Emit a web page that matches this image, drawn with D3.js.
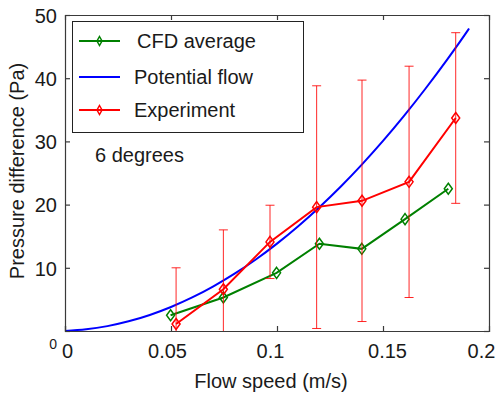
<!DOCTYPE html>
<html>
<head>
<meta charset="utf-8">
<script src="https://cdn.jsdelivr.net/npm/d3@7"></script>
<style>
  html, body { margin: 0; padding: 0; background: #fff; }
  svg { display: block; font-family: "Liberation Sans", Arial, Helvetica, sans-serif; }
</style>
</head>
<body>
<svg id="chart" width="498" height="398"></svg>
<script>
// ---- data ----
const xTicks = [0, 0.05, 0.1, 0.15, 0.2];
const xTickLabels = ["0", "0.05", "0.1", "0.15", "0.2"];
const yTicks = [0, 10, 20, 30, 40, 50];
const yTickLabels = ["0", "10", "20", "30", "40", "50"];

const cfdSpeed = [0.0498, 0.0747, 0.0998, 0.1200, 0.1400, 0.1604, 0.1808];
const cfdPressure = [2.5, 5.3, 9.2, 13.8, 13.0, 17.7, 22.5];

const expSpeed = [0.0524, 0.0747, 0.0967, 0.1187, 0.1401, 0.1623, 0.1843];
const expPressure = [1.1, 6.6, 14.1, 19.6, 20.6, 23.6, 33.7];
const expError = [8.9, 9.4, 5.8, 19.2, 19.1, 18.3, 13.5];

const pfSpeed = [0, 0.01, 0.02, 0.03, 0.04, 0.05, 0.06, 0.07, 0.08, 0.09, 0.10,
                 0.11, 0.12, 0.13, 0.14, 0.15, 0.16, 0.17, 0.18, 0.19, 0.1906];
const pfPressure = [0, 0.26, 0.77, 1.53, 2.54, 3.80, 5.31, 7.07, 9.07, 11.32, 13.83,
                    16.58, 19.59, 22.83, 26.33, 30.08, 34.08, 38.33, 42.82, 47.56, 47.86];

const legendLabels = ["CFD average", "Potential flow", "Experiment"];
const annotation = "6 degrees";
const xTitle = "Flow speed (m/s)";
const yTitle = "Pressure difference (Pa)";

// ---- layout / style ----
const L = 65, R = 489, T = 15, B = 331;
const green = "#008000", blue = "#0000ff", red = "#ff0000";
const axisColor = "#3a3a3a", textColor = "#1a1a1a";
const fs = 20;

const svg = d3.select("#chart");
const x = d3.scaleLinear().domain([0, 0.2]).range([L, R]);
const y = d3.scaleLinear().domain([0, 50]).range([B, T]);

const plot = svg.append("g");

// axes (ticks inward)
const fmtX = d => xTickLabels[xTicks.indexOf(d)];
const fmtY = d => yTickLabels[yTicks.indexOf(d)];
const xNudge = [2, -4, -7, 4, -8];

const gB = svg.append("g").attr("transform", `translate(0,${B})`)
  .call(d3.axisBottom(x).tickValues(xTicks).tickFormat(fmtX).tickSize(-5).tickPadding(17));
const gT = svg.append("g").attr("transform", `translate(0,${T})`)
  .call(d3.axisTop(x).tickValues(xTicks).tickFormat("").tickSize(-5));
const gL = svg.append("g").attr("transform", `translate(${L},0)`)
  .call(d3.axisLeft(y).tickValues(yTicks).tickFormat(fmtY).tickSize(-5).tickPadding(8));
const gR = svg.append("g").attr("transform", `translate(${R},0)`)
  .call(d3.axisRight(y).tickValues(yTicks).tickFormat("").tickSize(-5));

[gB, gT, gL, gR].forEach(g => {
  g.select(".domain").attr("stroke", axisColor).attr("stroke-width", 1.2);
  g.selectAll(".tick line").attr("stroke", axisColor).attr("stroke-width", 1.2);
  g.selectAll("text").attr("fill", textColor).style("font-size", fs + "px")
    .style("font-family", '"Liberation Sans", Arial, Helvetica, sans-serif');
});
gB.selectAll(".tick text").attr("dy", null).attr("y", 26.5)
  .attr("dx", (d, i) => xNudge[i]);
gL.selectAll(".tick text").attr("dy", "0.36em");
gL.selectAll(".tick").filter(d => d === 0).select("text")
  .style("font-size", "14px").attr("x", -8).attr("dy", null).attr("y", 17);
gB.selectAll(".tick").filter(d => d === 0.2).select("line").remove();
gT.selectAll(".tick").filter(d => d === 0.2 || d === 0).select("line").remove();

// CFD line
const diamond = (cx, cy, w, h) => `M${cx},${cy - h}L${cx + w},${cy}L${cx},${cy + h}L${cx - w},${cy}Z`;
const cfd = cfdSpeed.map((v, i) => [v, cfdPressure[i]]);
const exp = expSpeed.map((v, i) => [v, expPressure[i], expError[i]]);
const pf = pfSpeed.map((v, i) => [v, pfPressure[i]]);
const line = d3.line().x(d => x(d[0])).y(d => y(d[1]));

plot.append("path").datum(cfd).attr("d", line).attr("fill", "none")
  .attr("stroke", green).attr("stroke-width", 2);
plot.selectAll(".cfdm").data(cfd).join("path")
  .attr("d", d => diamond(x(d[0]), y(d[1]), 4, 5.5))
  .attr("fill", "none").attr("stroke", green).attr("stroke-width", 1.5);

// Potential flow
plot.append("path").datum(pf).attr("d", d3.line().curve(d3.curveMonotoneX).x(d => x(d[0])).y(d => y(d[1])))
  .attr("fill", "none").attr("stroke", blue).attr("stroke-width", 2);

// Experiment with error bars (clipped to axes)
const clip = svg.append("clipPath").attr("id", "clip").append("rect")
  .attr("x", L).attr("y", T).attr("width", R - L).attr("height", B - T);
const eb = plot.append("g").attr("clip-path", "url(#clip)");
exp.forEach(d => {
  const cx = x(d[0]), yt = y(d[1] + d[2]), yb = y(d[1] - d[2]);
  eb.append("line").attr("x1", cx).attr("x2", cx).attr("y1", yt).attr("y2", yb)
    .attr("stroke", red).attr("stroke-width", 1).attr("stroke-opacity", 0.85);
  eb.append("line").attr("x1", cx - 4.5).attr("x2", cx + 4.5).attr("y1", yt).attr("y2", yt)
    .attr("stroke", red).attr("stroke-width", 1).attr("stroke-opacity", 0.85);
  eb.append("line").attr("x1", cx - 4.5).attr("x2", cx + 4.5).attr("y1", yb).attr("y2", yb)
    .attr("stroke", red).attr("stroke-width", 1).attr("stroke-opacity", 0.85);
});
plot.append("path").datum(exp).attr("d", line).attr("fill", "none")
  .attr("stroke", red).attr("stroke-width", 2);
plot.selectAll(".expm").data(exp).join("path")
  .attr("d", d => diamond(x(d[0]), y(d[1]), 4, 5.5))
  .attr("fill", "none").attr("stroke", red).attr("stroke-width", 1.5);

// annotation
svg.append("text").attr("x", 95).attr("y", 162).attr("fill", textColor)
  .style("font-size", fs + "px").text(annotation);

// legend
const lg = svg.append("g");
lg.append("rect").attr("x", 72.5).attr("y", 21.5).attr("width", 231).attr("height", 111)
  .attr("fill", "#fff").attr("stroke", "#222").attr("stroke-width", 1);
const legendColors = [green, blue, red];
const legendY = [41, 77, 110];
const legendTextX = [137, 134, 134];
legendLabels.forEach((lab, i) => {
  lg.append("line").attr("x1", 79).attr("x2", 120).attr("y1", legendY[i]).attr("y2", legendY[i])
    .attr("stroke", legendColors[i]).attr("stroke-width", 2);
  if (i !== 1) {
    lg.append("path").attr("d", diamond(99.5, legendY[i], 2.5, 4.5))
      .attr("fill", "none").attr("stroke", legendColors[i]).attr("stroke-width", 1.5);
  }
  lg.append("text").attr("x", legendTextX[i]).attr("y", legendY[i] + 7).attr("fill", textColor)
    .style("font-size", fs + "px").text(lab);
});

// axis titles
svg.append("text").attr("x", 271).attr("y", 388).attr("text-anchor", "middle")
  .attr("fill", textColor).style("font-size", fs + "px").text(xTitle);
svg.append("text").attr("transform", "translate(24,171) rotate(-90)").attr("text-anchor", "middle")
  .attr("fill", textColor).style("font-size", fs + "px").text(yTitle);
</script>
</body>
</html>
